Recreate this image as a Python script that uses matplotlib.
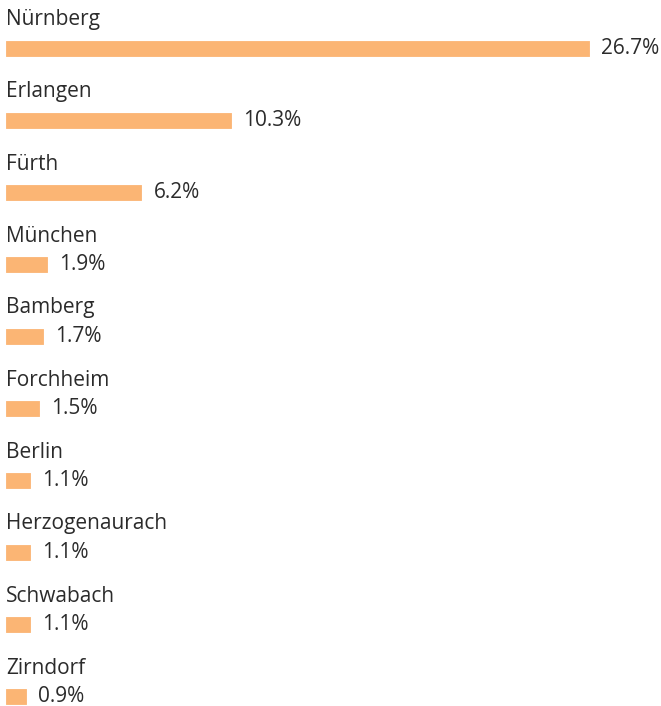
import matplotlib
matplotlib.use("Agg")
import matplotlib.pyplot as plt

cities = ["Nürnberg", "Erlangen", "Fürth", "München", "Bamberg", "Forchheim",
          "Berlin", "Herzogenaurach", "Schwabach", "Zirndorf"]
shares = [26.7, 10.3, 6.2, 1.9, 1.7, 1.5, 1.1, 1.1, 1.1, 0.9]

bar_color = "#FBB574"
text_color = "#2b2b2b"

plt.rcParams["font.family"] = ["Open Sans", "DejaVu Sans"]

fig = plt.figure(figsize=(6.61, 7.06), dpi=100)
ax = fig.add_axes([0, 0, 1, 1])

px = 583 / 26.7  # pixels per percent
rows = list(range(len(cities)))
ax.barh(rows, shares, height=15 / 72, left=0, color=bar_color,
        edgecolor=bar_color, linewidth=0.6, joinstyle="round")

for i, (name, v) in enumerate(zip(cities, shares)):
    ax.text(0, i - 28 / 72, name, ha="left", va="center",
            fontsize=15, color=text_color)
    ax.text(v + 12 / px, i + 1 / 72, f"{v:.1f}%", ha="left", va="center",
            fontsize=15, color=text_color)

ax.set_xlim(-6 / px, (661 - 6) / px)
ax.set_ylim((706 - 48) / 72, -48 / 72)
ax.axis("off")

fig.savefig("out.png", dpi=100, facecolor="white")
